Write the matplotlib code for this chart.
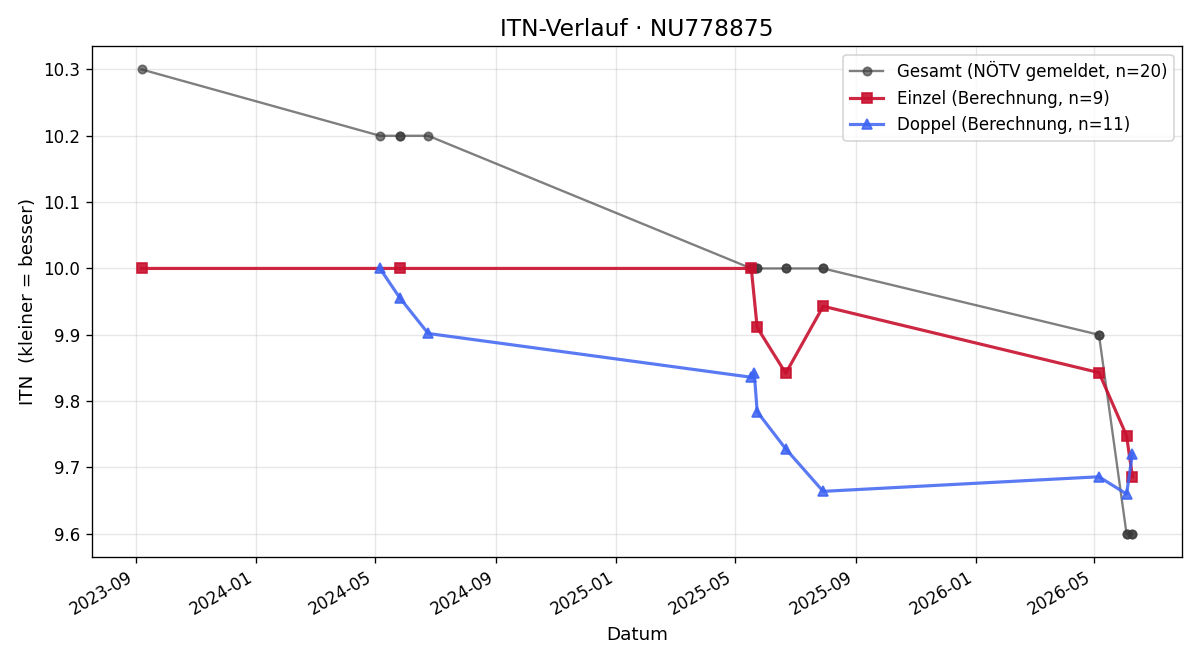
import numpy as np
import pandas as pd
import matplotlib
matplotlib.use('Agg')
import matplotlib.pyplot as plt
import matplotlib.dates as mdates

einzel_dates = ['2023-09-07', '2024-05-26', '2025-05-18', '2025-05-24', '2025-06-22',
                '2025-07-30', '2026-05-06', '2026-06-03', '2026-06-09']
einzel_itn = [10.0, 10.0, 10.0, 9.911, 9.842, 9.943, 9.843, 9.748, 9.686]

doppel_dates = ['2024-05-06', '2024-05-26', '2024-06-24', '2025-05-18', '2025-05-21',
                '2025-05-24', '2025-06-22', '2025-07-30', '2026-05-06', '2026-06-03',
                '2026-06-09']
doppel_itn = [10.0, 9.956, 9.902, 9.836, 9.843, 9.784, 9.728, 9.664, 9.686, 9.660, 9.721]

gesamt_dates = ['2023-09-07', '2024-05-06', '2024-05-26', '2024-05-26', '2024-06-24',
                '2025-05-18', '2025-05-18', '2025-05-21', '2025-05-24', '2025-05-24',
                '2025-06-22', '2025-06-22', '2025-07-30', '2025-07-30', '2026-05-06',
                '2026-05-06', '2026-06-03', '2026-06-03', '2026-06-09', '2026-06-09']
gesamt_itn = [10.3, 10.2, 10.2, 10.2, 10.2, 10.0, 10.0, 10.0, 10.0, 10.0,
              10.0, 10.0, 10.0, 10.0, 9.9, 9.9, 9.6, 9.6, 9.6, 9.6]

gd = pd.to_datetime(gesamt_dates)
ed = pd.to_datetime(einzel_dates)
dd = pd.to_datetime(doppel_dates)

fig, ax = plt.subplots(figsize=(10, 5.5), dpi=120)

ax.plot(gd, gesamt_itn, color='#3a3a3a', alpha=0.65, lw=1.4, marker='o', ms=5,
        label='Gesamt (NÖTV gemeldet, n=%d)' % len(gesamt_itn))
ax.plot(ed, einzel_itn, color='#c8102e', alpha=0.9, lw=1.9, marker='s', ms=6,
        label='Einzel (Berechnung, n=%d)' % len(einzel_itn))
ax.plot(dd, doppel_itn, color='#3d63f2', alpha=0.85, lw=1.9, marker='^', ms=6,
        label='Doppel (Berechnung, n=%d)' % len(doppel_itn))

ax.xaxis.set_major_locator(mdates.MonthLocator(bymonth=[1, 5, 9]))
ax.xaxis.set_major_formatter(mdates.DateFormatter('%Y-%m'))
fig.autofmt_xdate()

ax.set_title('ITN-Verlauf · NU778875', fontsize=14)
ax.set_xlabel('Datum', fontsize=11)
ax.set_ylabel('ITN  (kleiner = besser)', fontsize=11)
ax.grid(True, alpha=0.3)
ax.legend(loc='upper right')

fig.subplots_adjust(left=0.0767, right=0.985, top=0.930, bottom=0.156)
plt.savefig('out.png')
